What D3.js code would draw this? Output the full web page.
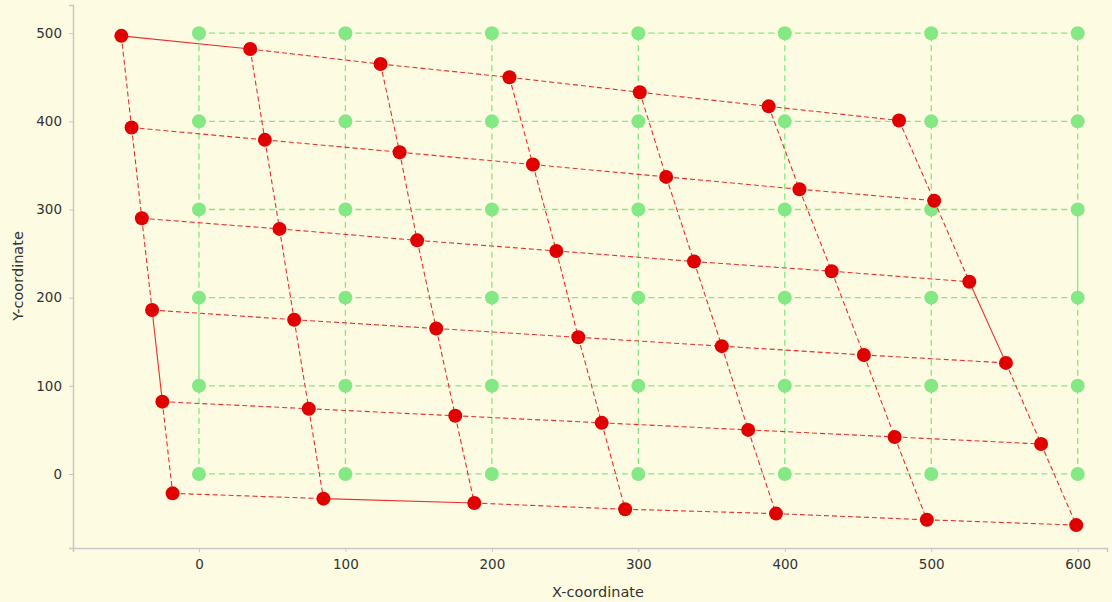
<!DOCTYPE html>
<html>
<head>
<meta charset="utf-8">
<script src="https://cdn.jsdelivr.net/npm/d3@7"></script>
<style>
  body { margin: 0; background: #fdfce2; }
  svg { display: block; }
  .axis text { font-family: 'DejaVu Sans', sans-serif; font-size: 13.5px; fill: #333; }
  .axis path, .axis line { stroke: #c8c8c8; }
  .title { font-family: 'DejaVu Sans', sans-serif; font-size: 14.5px; fill: #333; }
</style>
</head>
<body>
<div id="chart"></div>
<script>
// reference grid (green)
const gridX = [0, 100, 200, 300, 400, 500, 600];
const gridY = [0, 100, 200, 300, 400, 500];

// transformed grid (red), one row per grid y (500 down to 0)
const redX = [
  [-53, 35, 124, 212, 301, 389, 478],
  [-46, 45, 137, 228, 319, 410, 502],
  [-39, 55, 149, 244, 338, 432, 526],
  [-32, 65, 162, 259, 357, 454, 551],
  [-25, 75, 175, 275, 375, 475, 575],
  [-18, 85, 188, 291, 394, 497, 599],
];
const redY = [
  [497, 482, 465, 450, 433, 417, 401],
  [393, 379, 365, 351, 337, 323, 310],
  [290, 278, 265, 253, 241, 230, 218],
  [186, 175, 165, 155, 145, 135, 126],
  [82, 74, 66, 58, 50, 42, 34],
  [-22, -28, -33, -40, -45, -52, -58],
];

const xTicks = [0, 100, 200, 300, 400, 500, 600];
const yTicks = [0, 100, 200, 300, 400, 500];

// a few segments are drawn solid instead of dashed
const solidGreen = ['v:0:100', 'v:600:200'];
const solidRed = ['r:0:0', 'r:5:1', 'c:0:3', 'c:6:2'];

const W = 1112;
const H = 602;

const x = d3.scaleLinear().domain([-86, 620]).range([73, 1107]);
const y = d3.scaleLinear().domain([-84, 532]).range([548, 5]);

const svg = d3.select('#chart')
  .append('svg')
  .attr('width', W)
  .attr('height', H);

svg.append('rect').attr('width', W).attr('height', H).attr('fill', '#fdfce2');

// axes
svg.append('g')
  .attr('class', 'axis')
  .attr('transform', `translate(0,${y.range()[0]})`)
  .call(d3.axisBottom(x).tickValues(xTicks).tickSizeOuter(0).tickSize(4).tickPadding(7))
  .call(g => g.select('.domain').attr('stroke-width', 1.5));

svg.append('g')
  .attr('class', 'axis')
  .attr('transform', `translate(${x.range()[0]},0)`)
  .call(d3.axisLeft(y).tickValues(yTicks).tickSizeOuter(0).tickSize(4).tickPadding(7))
  .call(g => g.select('.domain').attr('stroke-width', 1.5));

svg.append('text')
  .attr('class', 'title')
  .attr('x', 598)
  .attr('y', 597)
  .attr('text-anchor', 'middle')
  .text('X-coordinate');

svg.append('text')
  .attr('class', 'title')
  .attr('transform', 'rotate(-90)')
  .attr('x', -276)
  .attr('y', 23)
  .attr('text-anchor', 'middle')
  .text('Y-coordinate');

// green grid segments
const greenSegs = [];
gridY.forEach(gy => {
  for (let i = 0; i < gridX.length - 1; i++) {
    greenSegs.push({ x1: gridX[i], y1: gy, x2: gridX[i + 1], y2: gy, key: `h:${gy}:${gridX[i]}` });
  }
});
gridX.forEach(gx => {
  for (let j = 0; j < gridY.length - 1; j++) {
    greenSegs.push({ x1: gx, y1: gridY[j], x2: gx, y2: gridY[j + 1], key: `v:${gx}:${gridY[j]}` });
  }
});

svg.append('g')
  .selectAll('line')
  .data(greenSegs)
  .enter()
  .append('line')
  .attr('x1', d => x(d.x1))
  .attr('y1', d => y(d.y1))
  .attr('x2', d => x(d.x2))
  .attr('y2', d => y(d.y2))
  .attr('stroke', '#84e884')
  .attr('stroke-width', 1.3)
  .attr('stroke-dasharray', d => (solidGreen.includes(d.key) ? null : '6,4'));

const greenPts = [];
gridY.forEach(gy => gridX.forEach(gx => greenPts.push({ x: gx, y: gy })));

svg.append('g')
  .selectAll('circle')
  .data(greenPts)
  .enter()
  .append('circle')
  .attr('cx', d => x(d.x))
  .attr('cy', d => y(d.y))
  .attr('r', 7)
  .attr('fill', '#84e884');

// red segments along rows and columns
const redSegs = [];
redX.forEach((row, r) => {
  for (let c = 0; c < row.length - 1; c++) {
    redSegs.push({ x1: row[c], y1: redY[r][c], x2: row[c + 1], y2: redY[r][c + 1], key: `r:${r}:${c}` });
  }
});
for (let c = 0; c < redX[0].length; c++) {
  for (let r = 0; r < redX.length - 1; r++) {
    redSegs.push({ x1: redX[r][c], y1: redY[r][c], x2: redX[r + 1][c], y2: redY[r + 1][c], key: `c:${c}:${r}` });
  }
}

svg.append('g')
  .selectAll('line')
  .data(redSegs)
  .enter()
  .append('line')
  .attr('x1', d => x(d.x1))
  .attr('y1', d => y(d.y1))
  .attr('x2', d => x(d.x2))
  .attr('y2', d => y(d.y2))
  .attr('stroke', '#e83030')
  .attr('stroke-width', 1.1)
  .attr('stroke-dasharray', d => (solidRed.includes(d.key) ? null : '5,3'));

const redPts = [];
redX.forEach((row, r) => row.forEach((vx, c) => redPts.push({ x: vx, y: redY[r][c] })));

svg.append('g')
  .selectAll('circle')
  .data(redPts)
  .enter()
  .append('circle')
  .attr('cx', d => x(d.x))
  .attr('cy', d => y(d.y))
  .attr('r', 7)
  .attr('fill', '#e00000');
</script>
</body>
</html>
